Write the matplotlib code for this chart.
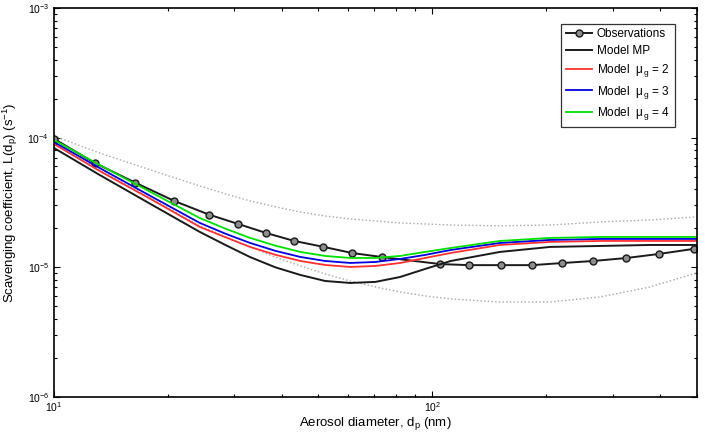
"""Scavenging coefficient vs aerosol diameter: observations and model runs."""

import matplotlib

matplotlib.use("Agg")

import matplotlib.pyplot as plt
from matplotlib.ticker import LogLocator, NullFormatter

plt.rcParams["font.family"] = ["Liberation Sans", "DejaVu Sans"]
plt.rcParams["mathtext.fontset"] = "custom"
plt.rcParams["mathtext.rm"] = "Liberation Sans"
plt.rcParams["mathtext.it"] = "Liberation Sans"

# observed scavenging coefficient (s^-1) by diameter (nm)
obs_d = [10, 12.8, 16.4, 20.8, 25.7, 30.7, 36.4, 43.1, 51.5, 61.4, 73.8,
         105, 125, 152, 184, 221, 267, 326, 399, 493]
obs_L = [9.8e-5, 6.4e-5, 4.5e-5, 3.25e-5, 2.55e-5, 2.16e-5, 1.84e-5, 1.6e-5,
         1.44e-5, 1.29e-5, 1.2e-5, 1.06e-5, 1.04e-5, 1.04e-5, 1.04e-5,
         1.08e-5, 1.12e-5, 1.18e-5, 1.27e-5, 1.39e-5]

# model curves share one diameter grid
model_d = [10, 13.2, 18, 24.3, 28.5, 33, 38.5, 44.8, 52.1, 60.7, 70.7, 82.3,
           95.8, 112, 151, 205, 278, 377, 500]
model_mp = [8.33e-5, 5.16e-5, 3.08e-5, 1.875e-5, 1.48e-5, 1.2e-5, 1.0e-5,
            8.74e-6, 7.85e-6, 7.58e-6, 7.72e-6, 8.43e-6, 9.72e-6, 1.12e-5,
            1.315e-5, 1.437e-5, 1.462e-5, 1.488e-5, 1.488e-5]
model_mu2 = [8.94e-5, 5.54e-5, 3.37e-5, 2.05e-5, 1.7e-5, 1.437e-5, 1.25e-5,
             1.12e-5, 1.043e-5, 1.007e-5, 1.025e-5, 1.081e-5, 1.181e-5,
             1.291e-5, 1.488e-5, 1.57e-5, 1.598e-5, 1.598e-5, 1.598e-5]
model_mu3 = [9.27e-5, 5.84e-5, 3.55e-5, 2.2e-5, 1.81e-5, 1.542e-5, 1.34e-5,
             1.203e-5, 1.12e-5, 1.081e-5, 1.1e-5, 1.161e-5, 1.247e-5,
             1.362e-5, 1.542e-5, 1.627e-5, 1.656e-5, 1.656e-5, 1.656e-5]
model_mu4 = [9.6e-5, 6.16e-5, 3.81e-5, 2.4e-5, 1.98e-5, 1.686e-5, 1.47e-5,
             1.315e-5, 1.225e-5, 1.181e-5, 1.181e-5, 1.225e-5, 1.315e-5,
             1.411e-5, 1.598e-5, 1.686e-5, 1.716e-5, 1.716e-5, 1.716e-5]

# observation uncertainty envelope
env_upper = [1.031e-4, 7.62e-5, 5.64e-5, 4.24e-5, 3.68e-5, 3.25e-5, 2.93e-5,
             2.67e-5, 2.49e-5, 2.36e-5, 2.28e-5, 2.2e-5, 2.16e-5, 2.12e-5,
             2.09e-5, 2.12e-5, 2.24e-5, 2.32e-5, 2.45e-5]
env_lower = [9.1e-5, 5.64e-5, 3.43e-5, 2.09e-5, 1.72e-5, 1.437e-5, 1.2e-5,
             1.025e-5, 8.89e-6, 7.85e-6, 7.06e-6, 6.46e-6, 6.02e-6, 5.71e-6,
             5.41e-6, 5.41e-6, 5.91e-6, 7.06e-6, 9.05e-6]


def main():
    fig = plt.figure(figsize=(7.05, 4.33), dpi=100)
    ax = fig.add_axes([0.0766, 0.0831, 0.9114, 0.8984])

    ax.plot(model_d, env_upper, ls=":", color="0.65", lw=1.0)
    ax.plot(model_d, env_lower, ls=":", color="0.65", lw=1.0)

    ax.plot(obs_d, obs_L, "-o", color="0.1", lw=1.4, ms=5,
            mfc="0.55", mec="0.1", mew=1.0, label="Observations")
    ax.plot(model_d, model_mp, color="0.1", lw=1.4, label="Model MP")
    ax.plot(model_d, model_mu2, color="#ff3030", lw=1.3, label=r"Model  $\mu_{\,g}$ = 2")
    ax.plot(model_d, model_mu3, color="#0000e0", lw=1.3, label=r"Model  $\mu_{\,g}$ = 3")
    ax.plot(model_d, model_mu4, color="#00e000", lw=1.3, label=r"Model  $\mu_{\,g}$ = 4")

    ax.set_xscale("log")
    ax.set_yscale("log")
    ax.set_xlim(10, 500)
    ax.set_ylim(1e-6, 1e-3)

    ax.xaxis.set_minor_locator(LogLocator(base=10, subs=range(2, 10)))
    ax.yaxis.set_minor_locator(LogLocator(base=10, subs=range(2, 10)))
    ax.xaxis.set_minor_formatter(NullFormatter())
    ax.yaxis.set_minor_formatter(NullFormatter())
    ax.tick_params(which="both", direction="in", top=True, right=True,
                   labelsize=7.5, width=0.8)
    ax.tick_params(axis="x", which="major", pad=2)
    ax.tick_params(which="major", length=4)
    ax.tick_params(which="minor", length=2.5)
    for spine in ax.spines.values():
        spine.set_linewidth(1.2)

    ax.set_xlabel("Aerosol diameter, d$_p$ (nm)", fontsize=9.5, labelpad=1)
    ax.set_ylabel("Scavenging coefficient, L(d$_p$) (s$^{-1}$)", fontsize=9.5, labelpad=5)

    leg = ax.legend(loc="upper right", bbox_to_anchor=(0.975, 0.975), fontsize=8.5,
                    fancybox=False, framealpha=1, edgecolor="0.2",
                    handlelength=2.2, handletextpad=0.4, borderpad=0.4,
                    labelspacing=0.4)
    leg.get_frame().set_linewidth(0.9)

    fig.savefig("out.png", dpi=100)
    plt.close(fig)


if __name__ == "__main__":
    main()
